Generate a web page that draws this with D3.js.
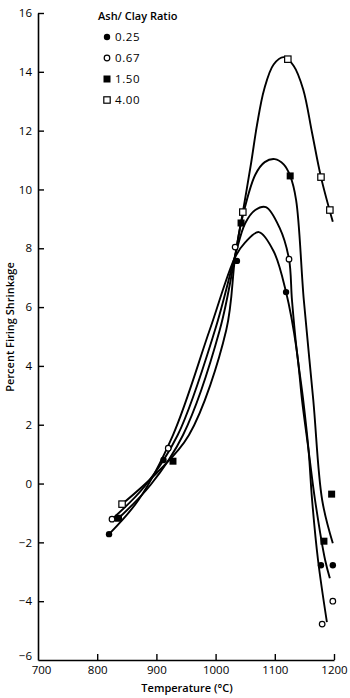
<!DOCTYPE html>
<html><head><meta charset="utf-8">
<script src="https://cdn.jsdelivr.net/npm/d3@7"></script>
<style>body{margin:0;background:#fff}svg{display:block}text{font-family:"Open Sans","DejaVu Sans",sans-serif;fill:#000}</style>
</head><body><svg id="c" width="350" height="698"></svg>
<script>
const seriesNames = ["0.25","0.67","1.50","4.00"];
const markerTypes = ["dotFilled","dotOpen","squareFilled","squareOpen"];
// measured points [temperature, shrinkage]
const pts025 = [[820,-1.72],[912,0.8],[1036,7.57],[1119,6.51],[1178,-2.78],[1198,-2.78]];
const pts067 = [[825,-1.21],[920,1.2],[1033,8.04],[1124,7.63],[1180,-4.78],[1198,-4.0]];
const pts150 = [[836,-1.18],[928,0.76],[1043,8.86],[1126,10.46],[1183,-1.96],[1196,-0.36]];
const pts400 = [[842,-0.7],[1046,9.23],[1122,14.43],[1178,10.42],[1193,9.3]];
// hand-drawn fitted curves
const crv025 = [[820,-1.72],[870,-0.55],[928,1.65],[990,5.22],[1033,7.7],[1050,8.2],[1073,8.55],[1098,7.9],[1119,6.51],[1137,4.54],[1146,2.84],[1157,1.14],[1168,-0.56],[1185,-2.6],[1193,-3.22]];
const crv067 = [[825,-1.21],[880,-0.1],[936,1.65],[999,5.22],[1033,7.75],[1050,8.85],[1067,9.3],[1085,9.4],[1108,8.7],[1124,7.63],[1129,6.24],[1137,4.54],[1148,2.84],[1157,1.14],[1163,-0.56],[1173,-2.6],[1188,-4.71]];
const crv150 = [[836,-1.18],[890,-0.05],[945,1.65],[1007,5.22],[1033,7.75],[1043,8.86],[1067,10.5],[1083,10.93],[1100,11.03],[1115,10.85],[1126,10.46],[1136,9.64],[1149,6.24],[1165,2.84],[1180,-0.56],[1198,-2.03]];
const crv400 = [[842,-0.7],[900,0.35],[955,1.65],[1018,5.22],[1033,7.7],[1046,9.23],[1060,10.9],[1070,12.2],[1082,13.4],[1098,14.25],[1115,14.5],[1132,14.2],[1148,13.4],[1163,11.92],[1178,10.42],[1198,8.9]];
const xTicks = [700,800,900,1000,1100,1200];
const yTicks = [-6,-4,-2,0,2,4,6,8,10,12,14,16];

const svg = d3.select("#c");
const x = d3.scaleLinear().domain([700,1200]).range([38,334]);
const y = d3.scaleLinear().domain([-6,16]).range([660,13]);
const FONT = "'Open Sans','DejaVu Sans',sans-serif";

const gx = svg.append("g").attr("transform","translate(0,660)")
  .call(d3.axisBottom(x).tickValues(xTicks).tickFormat(d3.format("d")).tickSizeInner(-6).tickSizeOuter(0).tickPadding(6));
const gy = svg.append("g").attr("transform","translate(38,0)")
  .call(d3.axisLeft(y).tickValues(yTicks).tickFormat(d3.format("d")).tickSizeInner(-6).tickSizeOuter(0).tickPadding(6));
[gx,gy].forEach(g=>{
  g.selectAll("path.domain").attr("stroke","#000").attr("stroke-width",1.6);
  g.selectAll(".tick line").attr("stroke","#000").attr("stroke-width",1.4);
  g.selectAll(".tick text").attr("font-size",11.5).attr("font-family",FONT);
});
gx.selectAll(".tick").filter(d=>d===700).select("line").remove();
gy.selectAll(".tick").filter(d=>d===-6).select("line").remove();
gy.selectAll(".tick").filter(d=>d===-6).select("text").attr("y",-4);
gx.selectAll(".tick").filter(d=>d===700).select("text").attr("x",3);

svg.append("text").attr("x",187).attr("y",692).attr("text-anchor","middle").attr("font-size",11).attr("font-weight",600)
  .text("Temperature (°C)");
svg.append("text").attr("transform","translate(14,327) rotate(-90)").attr("text-anchor","middle").attr("font-size",11).attr("font-weight",600)
  .text("Percent Firing Shrinkage");

const line = d3.line().x(d=>x(d[0])).y(d=>y(d[1])).curve(d3.curveCatmullRom.alpha(0.5));
[crv025,crv067,crv150,crv400].forEach(c=>{
  svg.append("path").attr("d",line(c)).attr("fill","none").attr("stroke","#000").attr("stroke-width",1.9);
});

function marker(g,type,cx,cy){
  if(type==="dotFilled") g.append("circle").attr("cx",cx).attr("cy",cy).attr("r",3.2).attr("fill","#000");
  else if(type==="dotOpen") g.append("circle").attr("cx",cx).attr("cy",cy).attr("r",2.8).attr("fill","#fff").attr("stroke","#000").attr("stroke-width",1.2);
  else if(type==="squareFilled") g.append("rect").attr("x",cx-3.5).attr("y",cy-3.5).attr("width",7).attr("height",7).attr("fill","#000");
  else g.append("rect").attr("x",cx-3.2).attr("y",cy-3.2).attr("width",6.4).attr("height",6.4).attr("fill","#fff").attr("stroke","#000").attr("stroke-width",1.2);
}
const mg = svg.append("g");
[pts025,pts067,pts150,pts400].forEach((p,i)=>p.forEach(d=>marker(mg,markerTypes[i],x(d[0]),y(d[1]))));

// legend
const lg = svg.append("g");
lg.append("text").attr("x",98).attr("y",20).attr("font-size",11).attr("font-weight",600).text("Ash/ Clay Ratio");
seriesNames.forEach((s,i)=>{
  const yy = 37 + i*21;
  marker(lg,markerTypes[i],107,yy);
  lg.append("text").attr("x",115).attr("y",yy+4).attr("font-size",11.5).attr("letter-spacing",0.6).text(s);
});
</script></body></html>
